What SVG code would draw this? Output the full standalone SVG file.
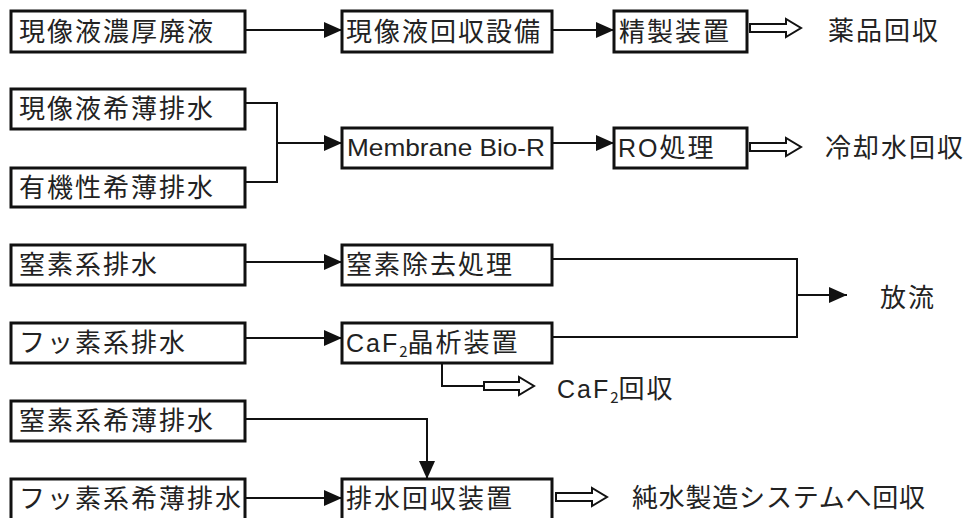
<svg xmlns="http://www.w3.org/2000/svg" width="972" height="518" viewBox="0 0 972 518">
<style>
.box{fill:#fff;stroke:#111;stroke-width:3}
.t{font-family:"Noto Sans CJK JP","Noto Sans CJK SC",sans-serif;font-size:26px;letter-spacing:2px;fill:#222}
.lat{font-family:"Liberation Sans","Noto Sans",sans-serif;font-size:24px;fill:#222}
.ln{fill:none;stroke:#111;stroke-width:2}
.hol{fill:#fff;stroke:#111;stroke-width:2;stroke-linejoin:miter}
</style>
<defs>
<marker id="ah" markerUnits="userSpaceOnUse" markerWidth="18" markerHeight="16" refX="18" refY="8" orient="auto">
<path d="M0,0 L18,8 L0,16 z" fill="#111"/>
</marker>
</defs>
<rect width="972" height="518" fill="#fff"/>

<g id="n1"><rect class="box" x="11" y="11" width="234" height="41"/><text class="t" x="19" y="41">現像液濃厚廃液</text></g>
<g id="n2"><rect class="box" x="11" y="89" width="234" height="40"/><text class="t" x="19" y="118">現像液希薄排水</text></g>
<g id="n3"><rect class="box" x="11" y="168" width="234" height="39"/><text class="t" x="19" y="197">有機性希薄排水</text></g>
<g id="n4"><rect class="box" x="11" y="245" width="234" height="40"/><text class="t" x="19" y="274">窒素系排水</text></g>
<g id="n5"><rect class="box" x="11" y="323" width="234" height="40"/><text class="t" x="19" y="352">フッ素系排水</text></g>
<g id="n6"><rect class="box" x="11" y="401" width="234" height="40"/><text class="t" x="19" y="430">窒素系希薄排水</text></g>
<g id="n7"><rect class="box" x="11" y="479" width="234" height="42"/><text class="t" x="19" y="508">フッ素系希薄排水</text></g>

<g id="m1"><rect class="box" x="342" y="11" width="210" height="41"/><text class="t" x="346" y="41">現像液回収設備</text></g>
<g id="m2"><rect class="box" x="342" y="128" width="210" height="40"/><text class="lat" x="347" y="156" textLength="198" lengthAdjust="spacingAndGlyphs">Membrane Bio-R</text></g>
<g id="m3"><rect class="box" x="342" y="245" width="210" height="40"/><text class="t" x="346" y="274">窒素除去処理</text></g>
<g id="m4"><rect class="box" x="342" y="323" width="210" height="40"/><text class="t" x="346" y="352"><tspan class="lat" style="font-size:25px">CaF</tspan><tspan style="font-size:15px;letter-spacing:0" dy="5">2</tspan><tspan dy="-5">晶析装置</tspan></text></g>
<g id="m5"><rect class="box" x="342" y="479" width="210" height="42"/><text class="t" x="346" y="508">排水回収装置</text></g>

<g id="r1"><rect class="box" x="614" y="11" width="133" height="41"/><text class="t" x="619" y="41">精製装置</text></g>
<g id="r2"><rect class="box" x="614" y="128" width="133" height="40"/><text class="t" x="618" y="157"><tspan class="lat" style="font-size:25px">RO</tspan>処理</text></g>

<g id="o1"><text class="t" x="828" y="40">薬品回収</text></g>
<g id="o2"><text class="t" x="825" y="157">冷却水回収</text></g>
<g id="o3"><text class="t" x="880" y="307">放流</text></g>
<g id="o4"><text class="t" x="557" y="398"><tspan class="lat" style="font-size:25px">CaF</tspan><tspan style="font-size:15px;letter-spacing:0" dy="5">2</tspan><tspan dy="-5">回収</tspan></text></g>
<g id="o5"><text class="t" x="632" y="507" textLength="295">純水製造システムへ回収</text></g>

<g id="connectors">
<path class="ln" d="M245,30 H342" marker-end="url(#ah)"/>
<path class="ln" d="M552,30 H614" marker-end="url(#ah)"/>
<path class="ln" d="M245,103 H277 V182 H245"/>
<path class="ln" d="M277,143 H342" marker-end="url(#ah)"/>
<path class="ln" d="M552,143 H614" marker-end="url(#ah)"/>
<path class="ln" d="M245,262 H342" marker-end="url(#ah)"/>
<path class="ln" d="M245,338 H342" marker-end="url(#ah)"/>
<path class="ln" d="M552,259 H797 V337 H552"/>
<path class="ln" d="M797,295 H847" marker-end="url(#ah)"/>
<path class="ln" d="M442,363 V386 H484"/>
<path class="ln" d="M245,419 H427 V479" marker-end="url(#ah)"/>
<path class="ln" d="M245,498 H342" marker-end="url(#ah)"/>
<polygon class="hol" points="750,24 786,24 786,19 801,28 786,37 786,32 750,32"/>
<polygon class="hol" points="750,143 786,143 786,138 801,147 786,156 786,151 750,151"/>
<polygon class="hol" points="484,382 519,382 519,377 534,386 519,395 519,390 484,390"/>
<polygon class="hol" points="556,493 592,493 592,488 607,497 592,506 592,501 556,501"/>
</g>
</svg>
